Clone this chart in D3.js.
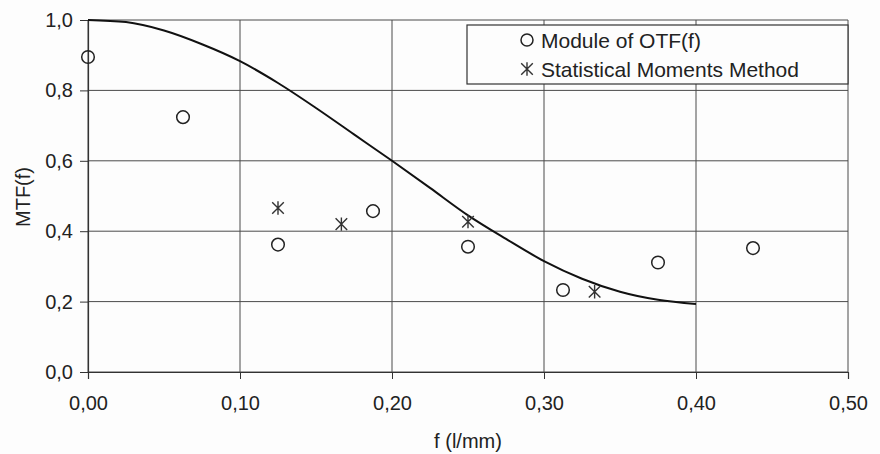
<!DOCTYPE html>
<html>
<head>
<meta charset="utf-8">
<script src="https://cdn.jsdelivr.net/npm/d3@7"></script>
<style>
  body { margin: 0; background: #fdfdfd; }
  svg { font-family: Arial, "Liberation Sans", sans-serif; }
</style>
</head>
<body>
<div id="chart"></div>
<script>
// values
var xTicks = [0, 0.1, 0.2, 0.3, 0.4, 0.5];
var yTicks = [0, 0.2, 0.4, 0.6, 0.8, 1.0];

// module of OTF(f) (circles)
var otfF   = [0, 0.0625, 0.125, 0.1875, 0.25, 0.3125, 0.375, 0.4375];
var otfMod = [0.895, 0.724, 0.362, 0.457, 0.356, 0.233, 0.311, 0.352];

// statistical moments method (stars)
var smmF   = [0.125, 0.1667, 0.25, 0.3333];
var smmVal = [0.466, 0.420, 0.427, 0.228];

// smooth MTF curve
var curveF   = [0, 0.025, 0.05, 0.075, 0.1, 0.125, 0.15, 0.175, 0.2, 0.225, 0.25, 0.275, 0.3, 0.325, 0.35, 0.375, 0.4];
var curveMtf = [1.0, 0.994, 0.970, 0.931, 0.883, 0.821, 0.750, 0.675, 0.600, 0.523, 0.445, 0.378, 0.315, 0.265, 0.228, 0.205, 0.193];

var legendLabels = ["Module of OTF(f)", "Statistical Moments Method"];

var W = 880, H = 454;
var margins = {top: 20, right: 32, bottom: 82, left: 88};
var width = W - margins.left - margins.right;   // 760
var height = H - margins.top - margins.bottom;  // 352

var svg = d3.select("#chart").append("svg")
    .attr("width", W)
    .attr("height", H);

var g = svg.append("g")
    .attr("transform", "translate(" + margins.left + "," + margins.top + ")");

var x = d3.scaleLinear().domain([0, 0.5]).range([0, width]);
var y = d3.scaleLinear().domain([0, 1]).range([height, 0]);

var comma = function(fmt) { return function(d) { return d3.format(fmt)(d).replace(".", ","); }; };

// grid
g.append("g").selectAll("line").data(yTicks).enter().append("line")
    .attr("x1", 0).attr("x2", width)
    .attr("y1", function(d) { return y(d); }).attr("y2", function(d) { return y(d); })
    .attr("stroke", "#4a4a4a").attr("stroke-width", 1);
g.append("g").selectAll("line").data(xTicks).enter().append("line")
    .attr("y1", 0).attr("y2", height)
    .attr("x1", function(d) { return x(d); }).attr("x2", function(d) { return x(d); })
    .attr("stroke", "#4a4a4a").attr("stroke-width", 1);

// axes
var xAxis = g.append("g")
    .attr("transform", "translate(0," + height + ")")
    .call(d3.axisBottom(x).tickValues(xTicks).tickFormat(comma(".2f")).tickSize(7).tickPadding(17));
var yAxis = g.append("g")
    .call(d3.axisLeft(y).tickValues(yTicks).tickFormat(comma(".1f")).tickSize(8).tickPadding(7));

[xAxis, yAxis].forEach(function(a) {
    a.select(".domain").attr("stroke", "#333").attr("stroke-width", 1.2);
    a.selectAll(".tick line").attr("stroke", "#333");
    a.selectAll("text").attr("font-size", "20px").attr("fill", "#222")
        .attr("font-family", "Arial, 'Liberation Sans', sans-serif");
});

// curve
var line = d3.line()
    .x(function(d, i) { return x(curveF[i]); })
    .y(function(d) { return y(d); })
    .curve(d3.curveMonotoneX);
g.append("path")
    .datum(curveMtf)
    .attr("d", line)
    .attr("fill", "none")
    .attr("stroke", "#111")
    .attr("stroke-width", 2);

// star marker path
function starPath(s) {
    var v = s * 1.15;
    return "M" + (-s) + "," + (-s) + "L" + s + "," + s +
           "M" + (-s) + "," + s + "L" + s + "," + (-s) +
           "M0," + (-v) + "L0," + v;
}

// circles
g.append("g").selectAll("circle").data(otfMod).enter().append("circle")
    .attr("cx", function(d, i) { return x(otfF[i]); })
    .attr("cy", function(d) { return y(d); })
    .attr("r", 6.3)
    .attr("fill", "none")
    .attr("stroke", "#222")
    .attr("stroke-width", 1.5);

// stars
g.append("g").selectAll("path").data(smmVal).enter().append("path")
    .attr("transform", function(d, i) { return "translate(" + x(smmF[i]) + "," + y(d) + ")"; })
    .attr("d", starPath(5.8))
    .attr("fill", "none")
    .attr("stroke", "#333")
    .attr("stroke-width", 1.4);

// axis titles
svg.append("text")
    .attr("x", margins.left + x(0.25))
    .attr("y", 448)
    .attr("text-anchor", "middle")
    .attr("font-size", "20px")
    .attr("fill", "#222")
    .text("f (l/mm)");

svg.append("text")
    .attr("transform", "translate(30," + 197 + ")rotate(-90)")
    .attr("text-anchor", "middle")
    .attr("font-size", "20px")
    .attr("fill", "#222")
    .text("MTF(f)");

// legend
var legend = svg.append("g");
legend.append("rect")
    .attr("x", 467).attr("y", 25)
    .attr("width", 381).attr("height", 59)
    .attr("fill", "#fdfdfd")
    .attr("stroke", "#333")
    .attr("stroke-width", 1.2);
legend.append("circle")
    .attr("cx", 527).attr("cy", 40).attr("r", 6)
    .attr("fill", "none").attr("stroke", "#222").attr("stroke-width", 1.5);
legend.append("path")
    .attr("transform", "translate(527,69)")
    .attr("d", starPath(5.8))
    .attr("fill", "none").attr("stroke", "#333").attr("stroke-width", 1.4);
legend.selectAll("text.lab").data(legendLabels).enter().append("text")
    .attr("class", "lab")
    .attr("x", 541)
    .attr("y", function(d, i) { return 48 + i * 28.5; })
    .attr("font-size", "21px")
    .attr("fill", "#222")
    .text(function(d) { return d; });
</script>
</body>
</html>
